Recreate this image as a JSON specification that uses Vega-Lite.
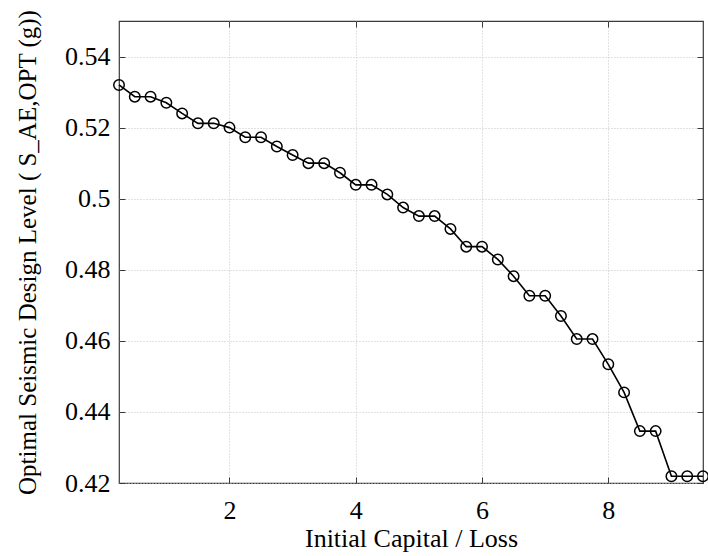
{
  "$schema": "https://vega.github.io/schema/vega-lite/v6.json",
  "width": 584,
  "height": 462,
  "autosize": {"type": "none"},
  "padding": {"left": 119, "top": 21, "right": 5, "bottom": 73},
  "background": "white",
  "config": {
    "font": "Liberation Serif",
    "view": {"stroke": "#3a3a3a", "strokeWidth": 1.2},
    "axis": {
      "domain": false,
      "grid": true,
      "gridColor": "#c4c4c4",
      "gridDash": [1, 2],
      "gridWidth": 1,
      "ticks": true,
      "tickColor": "#3a3a3a",
      "tickSize": -6,
      "tickWidth": 1,
      "labelFont": "Liberation Serif",
      "labelFontSize": 26,
      "labelColor": "black",
      "titleFont": "Liberation Serif",
      "titleFontSize": 26,
      "titleFontWeight": "normal",
      "titleColor": "black"
    }
  },
  "data": {
    "values": [
      {"ratio": 0.25, "sa": 0.5320},
      {"ratio": 0.5, "sa": 0.5287},
      {"ratio": 0.75, "sa": 0.5287},
      {"ratio": 1.0, "sa": 0.5270},
      {"ratio": 1.25, "sa": 0.5240},
      {"ratio": 1.5, "sa": 0.5212},
      {"ratio": 1.75, "sa": 0.5212},
      {"ratio": 2.0, "sa": 0.5200},
      {"ratio": 2.25, "sa": 0.5173},
      {"ratio": 2.5, "sa": 0.5173},
      {"ratio": 2.75, "sa": 0.5147},
      {"ratio": 3.0, "sa": 0.5123},
      {"ratio": 3.25, "sa": 0.5100},
      {"ratio": 3.5, "sa": 0.5100},
      {"ratio": 3.75, "sa": 0.5073},
      {"ratio": 4.0, "sa": 0.5039},
      {"ratio": 4.25, "sa": 0.5039},
      {"ratio": 4.5, "sa": 0.5012},
      {"ratio": 4.75, "sa": 0.4975},
      {"ratio": 5.0, "sa": 0.4951},
      {"ratio": 5.25, "sa": 0.4951},
      {"ratio": 5.5, "sa": 0.4915},
      {"ratio": 5.75, "sa": 0.4865},
      {"ratio": 6.0, "sa": 0.4865},
      {"ratio": 6.25, "sa": 0.4829},
      {"ratio": 6.5, "sa": 0.4782},
      {"ratio": 6.75, "sa": 0.4727},
      {"ratio": 7.0, "sa": 0.4727},
      {"ratio": 7.25, "sa": 0.4670},
      {"ratio": 7.5, "sa": 0.4605},
      {"ratio": 7.75, "sa": 0.4605},
      {"ratio": 8.0, "sa": 0.4534},
      {"ratio": 8.25, "sa": 0.4455},
      {"ratio": 8.5, "sa": 0.4346},
      {"ratio": 8.75, "sa": 0.4346},
      {"ratio": 9.0, "sa": 0.4219},
      {"ratio": 9.25, "sa": 0.4219},
      {"ratio": 9.5, "sa": 0.4219}
    ]
  },
  "layer": [
    {
      "mark": {"type": "line", "color": "black", "strokeWidth": 1.6},
      "encoding": {
        "x": {
          "field": "ratio",
          "type": "quantitative",
          "scale": {"domain": [0.25, 9.5], "nice": false, "zero": false},
          "axis": {"values": [2, 4, 6, 8], "format": "~g", "labelPadding": 20, "title": "Initial Capital / Loss", "titlePadding": 2}
        },
        "y": {
          "field": "sa",
          "type": "quantitative",
          "scale": {"domain": [0.42, 0.55], "nice": false, "zero": false},
          "axis": {"values": [0.42, 0.44, 0.46, 0.48, 0.5, 0.52, 0.54], "format": "~g", "labelPadding": 15, "title": "Optimal Seismic Design Level ( S_AE,OPT (g))", "titleFontSize": 25, "titlePadding": 24}
        }
      }
    },
    {
      "mark": {"type": "point", "shape": "circle", "filled": false, "color": "black", "size": 110, "strokeWidth": 1.5, "opacity": 1},
      "encoding": {
        "x": {"field": "ratio", "type": "quantitative", "axis": null},
        "y": {"field": "sa", "type": "quantitative", "axis": null}
      }
    },
    {
      "mark": {"type": "point", "opacity": 0},
      "encoding": {
        "x": {"field": "ratio", "type": "quantitative", "axis": {"orient": "top", "values": [2, 4, 6, 8], "labels": false, "grid": false, "title": null}},
        "y": {"field": "sa", "type": "quantitative", "axis": {"orient": "right", "values": [0.42, 0.44, 0.46, 0.48, 0.5, 0.52, 0.54], "labels": false, "grid": false, "title": null}}
      }
    }
  ],
  "resolve": {"axis": {"x": "independent", "y": "independent"}}
}
